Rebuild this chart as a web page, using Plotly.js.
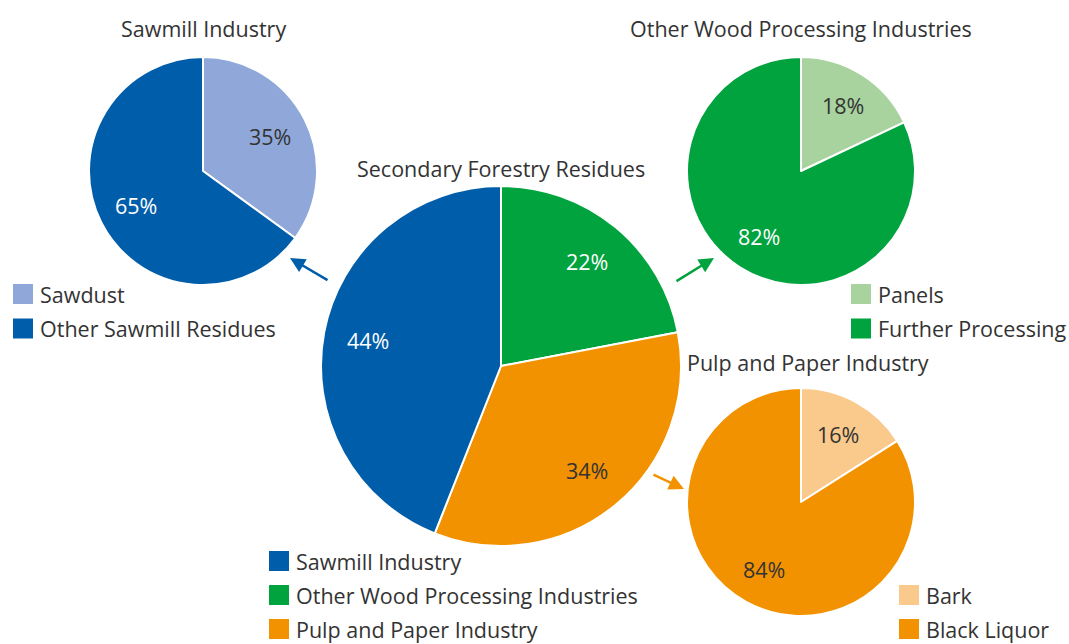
<!DOCTYPE html>
<html>
<head>
<meta charset="utf-8">
<script src="https://cdn.plot.ly/plotly-3.0.1.min.js"></script>
<style>html,body{margin:0;padding:0;background:#fff;}#chart{width:1069px;height:644px;}</style>
</head>
<body>
<div id="chart"></div>
<script>
// ---- data ----
const mainTitle = 'Secondary Forestry Residues';
const mainLabels = ['Sawmill Industry', 'Other Wood Processing Industries', 'Pulp and Paper Industry'];
const mainValues = [44, 22, 34];
const mainColors = ['#005DAA', '#00A33D', '#F39200'];
const mainSliceOrder = [1, 2, 0]; // clockwise from 12 o'clock

const sawTitle = 'Sawmill Industry';
const sawLabels = ['Sawdust', 'Other Sawmill Residues'];
const sawValues = [35, 65];
const sawColors = ['#8FA8D9', '#005DAA'];

const woodTitle = 'Other Wood Processing Industries';
const woodLabels = ['Panels', 'Further Processing'];
const woodValues = [18, 82];
const woodColors = ['#A8D29E', '#00A33D'];

const pulpTitle = 'Pulp and Paper Industry';
const pulpLabels = ['Bark', 'Black Liquor'];
const pulpValues = [16, 84];
const pulpColors = ['#FAC98C', '#F39200'];

// ---- layout helpers ----
const W = 1069, H = 644;
const FONT = 'Open Sans, Noto Sans, sans-serif';
const FS = 21.5;
const DARK = '#333333';
const px = x => x / W;
const py = y => 1 - y / H;

function textColor(c) {
  return (c === '#005DAA' || c === '#00A33D') ? '#ffffff' : DARK;
}

const pies = [
  {labels: sawLabels, values: sawValues, colors: sawColors, cx: 203, cy: 171, r: 114, f: 0.66,
   title: sawTitle, tx: 203, ty: 29, legX: 13, legY: 294, legGap: 34.5},
  {labels: woodLabels, values: woodValues, colors: woodColors, cx: 801, cy: 171, r: 114, f: 0.68,
   title: woodTitle, tx: 801, ty: 29, legX: 851, legY: 294, legGap: 34.5},
  {labels: mainSliceOrder.map(i => mainLabels[i]), values: mainSliceOrder.map(i => mainValues[i]),
   colors: mainSliceOrder.map(i => mainColors[i]), cx: 501, cy: 366, r: 180, f: 0.75,
   title: mainTitle, tx: 501, ty: 168, legX: 269, legY: 561, legGap: 34,
   legLabels: mainLabels, legColors: mainColors},
  {labels: pulpLabels, values: pulpValues, colors: pulpColors, cx: 801, cy: 502, r: 114, f: 0.68,
   title: pulpTitle, tx: 808, ty: 362, legX: 899, legY: 595, legGap: 34}
];

const traces = [];
const annotations = [];
const shapes = [];

pies.forEach(p => {
  traces.push({
    type: 'pie',
    labels: p.labels,
    values: p.values,
    sort: false,
    direction: 'clockwise',
    rotation: 0,
    textinfo: 'none',
    hoverinfo: 'label+percent',
    showlegend: false,
    marker: {colors: p.colors, line: {color: '#ffffff', width: 2}},
    domain: {x: [px(p.cx - p.r), px(p.cx + p.r)], y: [py(p.cy + p.r), py(p.cy - p.r)]}
  });
  // percentage labels
  const total = p.values.reduce((a, b) => a + b, 0);
  let cum = 0;
  p.values.forEach((v, i) => {
    const mid = (cum + v / 2) / total * 2 * Math.PI;
    cum += v;
    const x = p.cx + p.f * p.r * Math.sin(mid);
    const y = p.cy - p.f * p.r * Math.cos(mid);
    annotations.push({
      xref: 'paper', yref: 'paper', x: px(x), y: py(y), xanchor: 'center', yanchor: 'middle',
      showarrow: false, text: Math.round(v / total * 100) + '%',
      font: {family: FONT, size: FS, color: textColor(p.colors[i])}
    });
  });
  // title
  annotations.push({
    xref: 'paper', yref: 'paper', x: px(p.tx), y: py(p.ty), xanchor: 'center', yanchor: 'middle',
    showarrow: false, text: p.title, font: {family: FONT, size: FS, color: DARK}
  });
  // legend
  const ll = p.legLabels || p.labels;
  const lc = p.legColors || p.colors;
  ll.forEach((lab, i) => {
    const yc = p.legY + i * p.legGap;
    shapes.push({
      type: 'rect', xref: 'paper', yref: 'paper',
      x0: px(p.legX), x1: px(p.legX + 20), y0: py(yc + 10), y1: py(yc - 10),
      fillcolor: lc[i], line: {width: 0}
    });
    annotations.push({
      xref: 'paper', yref: 'paper', x: px(p.legX + 25), y: py(yc), xanchor: 'left', yanchor: 'middle',
      showarrow: false, text: lab, font: {family: FONT, size: FS, color: DARK}
    });
  });
});

// arrows
const arrows = [
  {hx: 290, hy: 258, tx: 329, ty: 281, c: '#005DAA'},
  {hx: 714, hy: 258, tx: 675, ty: 282, c: '#00A33D'},
  {hx: 684, hy: 489, tx: 652, ty: 474, c: '#F39200'}
];
arrows.forEach(a => {
  annotations.push({
    xref: 'paper', yref: 'paper', x: px(a.hx), y: py(a.hy), ax: a.tx - a.hx, ay: a.ty - a.hy,
    text: '', showarrow: true, arrowhead: 2, arrowsize: 1.2, arrowwidth: 2.5, arrowcolor: a.c, standoff: 0
  });
});

const layout = {
  width: W, height: H,
  margin: {l: 0, r: 0, t: 0, b: 0},
  paper_bgcolor: '#ffffff',
  plot_bgcolor: '#ffffff',
  showlegend: false,
  annotations: annotations,
  shapes: shapes
};

Plotly.newPlot('chart', traces, layout, {displayModeBar: false, staticPlot: true});
</script>
</body>
</html>
